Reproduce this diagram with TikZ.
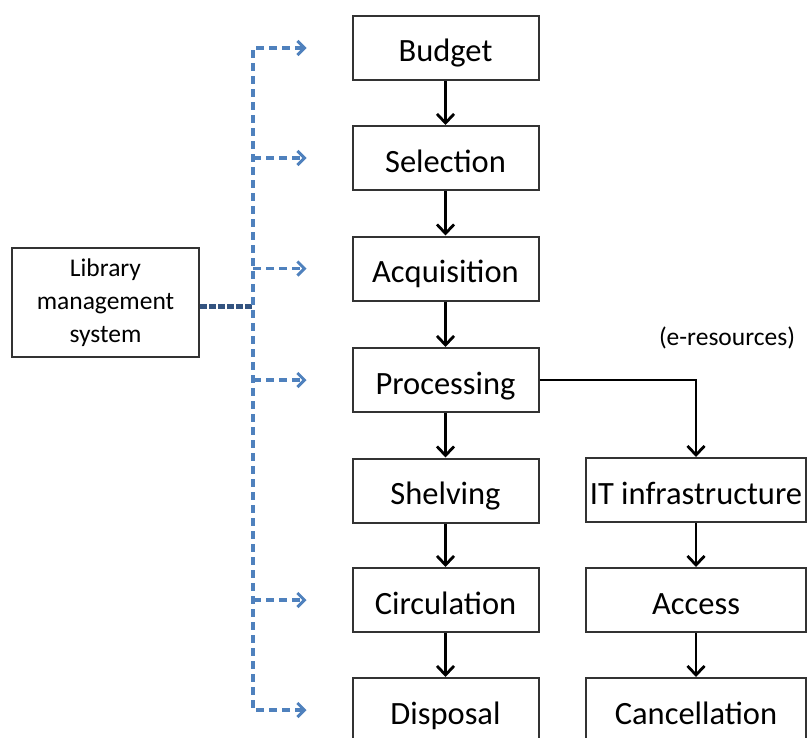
\documentclass[tikz,border=0pt]{standalone}
\usepackage{fontspec}
\setmainfont{Carlito}
\usetikzlibrary{arrows.meta}

\begin{document}
\begin{tikzpicture}[x=1bp,y=-1bp,busbarb/.tip={Straight Barb[length=7bp,width=14bp,line width=3bp]}]
        \tikzstyle{stage}=[draw=black!80,line width=2bp,minimum height=64bp,inner sep=0pt,text height=30bp,text depth=2bp,font=\fontsize{32.5bp}{38bp}\selectfont]
        \tikzstyle{flow}=[-{Straight Barb[length=9bp,width=17bp,line width=2.8bp]},line width=2.8bp]
        \tikzstyle{bus}=[color={rgb,255:red,79;green,129;blue,189},line width=3.2bp,dash pattern=on 8bp off 5bp]
        \clip (0,0) rectangle (808,738);
        \node[stage,minimum width=186bp] (m_1) at (445.5,48) {Budget};
        \node[stage,minimum width=186bp] (m_2) at (445.5,158) {Selection};
        \node[stage,minimum width=186bp] (m_3) at (445.5,268.5) {Acquisition};
        \node[stage,minimum width=186bp] (m_4) at (445.5,380) {Processing};
        \node[stage,minimum width=186bp] (m_5) at (445.5,490.5) {Shelving};
        \node[stage,minimum width=186bp] (m_6) at (445.5,600) {Circulation};
        \node[stage,minimum width=186bp] (m_7) at (445.5,710) {Disposal};
        \node[stage,minimum width=220bp] (e_1) at (696,490) {IT infrastructure};
        \node[stage,minimum width=220bp] (e_2) at (696,600) {Access};
        \node[stage,minimum width=220bp] (e_3) at (696,710) {Cancellation};
        \node[font=\fontsize{25.5bp}{30bp}\selectfont] (eres) at (727,338) {(e-resources)};
        \node[stage,minimum width=187bp,minimum height=109bp,text height=,text depth=,align=center,font=\fontsize{25.5bp}{33bp}\selectfont] (lms) at (105.5,302.5) {Library\\management\\system};
        \coordinate (bus) at (253,306);
        % main flow
        \draw[flow] (m_1) -- (m_2);
        \draw[flow] (m_2) -- (m_3);
        \draw[flow] (m_3) -- (m_4);
        \draw[flow] (m_4) -- (m_5);
        \draw[flow] (m_5) -- (m_6);
        \draw[flow] (m_6) -- (m_7);
        \draw[flow] (m_4.east) -| (e_1.north);
        \draw[flow] (e_1) -- (e_2);
        \draw[flow] (e_2) -- (e_3);
        % library management system
        \draw[bus,color={rgb,255:red,52;green,84;blue,128},line width=5bp,dash pattern=on 7bp off 2bp] (lms.east |- bus) -- (bus);
        \draw[bus,busbarb-busbarb,shorten <=45bp,shorten >=45bp] (m_1.west) -- (bus |- m_1) -- (bus |- m_7) -- (m_7.west);
        \foreach \n in {m_2,m_3,m_4,m_6}
          \draw[bus,-busbarb,shorten >=45bp] (bus |- \n) -- (\n.west);
      \end{tikzpicture}
\end{document}
